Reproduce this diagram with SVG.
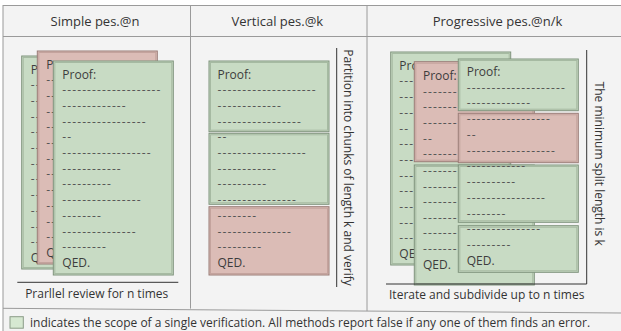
<svg xmlns="http://www.w3.org/2000/svg" width="621" height="331" viewBox="0 0 621 331">
<style>
text{font-family:"Open Sans","Noto Sans","DejaVu Sans",sans-serif;}
.frame{fill:#f3f3f3;stroke:#9a9a9a;stroke-width:1;}
.grid{stroke:#9a9a9a;stroke-width:1;fill:none;}
.br{stroke:#333;stroke-width:1;fill:none;}
.h{font-size:13px;fill:#333;text-anchor:middle;}
.lb{font-size:12px;fill:#333;text-anchor:middle;}
.ft{font-size:12px;fill:#333;}
.g{fill:#c8dbc4;stroke:#7f937c;stroke-width:1;}
.gi{fill:none;stroke:#a6baa2;stroke-width:1;}
.r{fill:#dbbcb6;stroke:#9a7c77;stroke-width:1;}
.ri{fill:none;stroke:#c4a39d;stroke-width:1;}
.p{font-size:12px;fill:#3d3d3d;}
.d{font-size:12px;fill:#555;letter-spacing:1.1px;}
</style>

<g id="table">
<rect class="frame" x="3" y="5.5" width="640" height="340"/>
<line class="grid" x1="3" y1="36.5" x2="621" y2="36.5"/>
<line class="grid" x1="190.5" y1="5.5" x2="190.5" y2="308.6"/>
<line class="grid" x1="367" y1="5.5" x2="367" y2="311.1"/>
<line class="grid" x1="3" y1="308.3" x2="621" y2="313"/>
<text class="h" x="95" y="26.3">Simple pes.@n</text>
<text class="h" x="277.3" y="26.3">Vertical pes.@k</text>
<text class="h" x="497.5" y="26.3">Progressive pes.@n/k</text>
</g>

<!-- Simple panel -->
<g id="simple-card-1">
<rect class="g" x="21.7" y="56" width="120" height="213"/>
<rect class="gi" x="23.2" y="57.5" width="117" height="210"/>
<text class="p" x="30.7" y="73.6">Pr</text>
<text class="d" x="30.7" y="89.2">--</text>
<text class="d" x="30.7" y="104.9">--</text>
<text class="d" x="30.7" y="120.6">--</text>
<text class="d" x="30.7" y="136.3">--</text>
<text class="d" x="30.7" y="152.0">--</text>
<text class="d" x="30.7" y="167.7">--</text>
<text class="d" x="30.7" y="183.4">--</text>
<text class="d" x="30.7" y="199.1">--</text>
<text class="d" x="30.7" y="214.8">--</text>
<text class="d" x="30.7" y="230.5">--</text>
<text class="d" x="30.7" y="246.2">--</text>
<text class="p" x="30.7" y="261.9">Q</text>
</g>
<g id="simple-card-2">
<rect class="r" x="37.3" y="51" width="120" height="213"/>
<rect class="ri" x="38.8" y="52.5" width="117" height="210"/>
<text class="p" x="46.3" y="68.6">Pr</text>
<text class="d" x="46.3" y="84.2">--</text>
<text class="d" x="46.3" y="99.9">--</text>
<text class="d" x="46.3" y="115.6">--</text>
<text class="d" x="46.3" y="131.3">--</text>
<text class="d" x="46.3" y="147.0">--</text>
<text class="d" x="46.3" y="162.7">--</text>
<text class="d" x="46.3" y="178.4">--</text>
<text class="d" x="46.3" y="194.1">--</text>
<text class="d" x="46.3" y="209.8">--</text>
<text class="d" x="46.3" y="225.5">--</text>
<text class="d" x="46.3" y="241.2">--</text>
<text class="p" x="46.3" y="256.9">Q</text>
</g>
<g id="simple-card-3">
<rect class="g" x="53.3" y="61" width="120" height="214"/>
<rect class="gi" x="54.8" y="62.5" width="117" height="211"/>
<text class="p" x="62.3" y="78.6">Proof:</text>
<text class="d" x="62.3" y="94.2">--------------------</text>
<text class="d" x="62.3" y="109.9">-------------</text>
<text class="d" x="62.3" y="125.6">-----------------</text>
<text class="d" x="62.3" y="141.3">--</text>
<text class="d" x="62.3" y="157.0">------------------</text>
<text class="d" x="62.3" y="172.7">------------</text>
<text class="d" x="62.3" y="188.4">----------</text>
<text class="d" x="62.3" y="204.1">----------------</text>
<text class="d" x="62.3" y="219.8">--------</text>
<text class="d" x="62.3" y="235.5">---------------</text>
<text class="d" x="62.3" y="251.2">---------</text>
<text class="p" x="62.3" y="266.9">QED.</text>
</g>
<g id="simple-label">
<text class="lb" x="96.7" y="298.3">Prarllel review for n times</text>
</g>

<!-- Vertical panel -->
<g id="vertical-chunk-1">
<rect class="g" x="209" y="61" width="120" height="70.7"/>
<rect class="gi" x="210.5" y="62.5" width="117" height="67.7"/>
<text class="p" x="217.5" y="78.6">Proof:</text>
<text class="d" x="217.5" y="94.2">--------------------</text>
<text class="d" x="217.5" y="109.9">-------------</text>
<text class="d" x="217.5" y="125.6">-----------------</text>
</g>
<g id="vertical-chunk-2">
<rect class="g" x="209" y="133.3" width="120" height="71"/>
<rect class="gi" x="210.5" y="134.8" width="117" height="68"/>
<text class="d" x="217.5" y="141.3">--</text>
<text class="d" x="217.5" y="157.0">------------------</text>
<text class="d" x="217.5" y="172.7">------------</text>
<text class="d" x="217.5" y="188.4">----------</text>
<text class="d" x="217.5" y="204.1">----------------</text>
</g>
<g id="vertical-chunk-3">
<rect class="r" x="209" y="206.7" width="120" height="68.3"/>
<rect class="ri" x="210.5" y="208.2" width="117" height="65.3"/>
<text class="d" x="217.5" y="219.8">--------</text>
<text class="d" x="217.5" y="235.5">---------------</text>
<text class="d" x="217.5" y="251.2">---------</text>
<text class="p" x="217.5" y="266.9">QED.</text>
</g>
<g id="vertical-label">
<text class="lb" transform="translate(343.5,167.5) rotate(90)">Partition into chunks of length k and verify</text>
</g>

<!-- Progressive panel -->
<g id="progressive-card-1">
<rect class="g" x="390.7" y="52" width="120" height="213"/>
<rect class="gi" x="392.2" y="53.5" width="117" height="210"/>
<text class="p" x="399.3" y="69.8">Pro</text>
<text class="d" x="399.3" y="85.4">---</text>
<text class="d" x="399.3" y="101.1">---</text>
<text class="d" x="399.3" y="116.8">---</text>
<text class="d" x="399.3" y="132.5">--</text>
<text class="d" x="399.3" y="148.2">---</text>
<text class="d" x="399.3" y="163.9">---</text>
<text class="d" x="399.3" y="179.6">---</text>
<text class="d" x="399.3" y="195.3">---</text>
<text class="d" x="399.3" y="211.0">---</text>
<text class="d" x="399.3" y="226.7">---</text>
<text class="d" x="399.3" y="242.4">---</text>
<text class="p" x="399.3" y="258.1">QE</text>
</g>
<g id="progressive-card-2">
<rect class="r" x="414.3" y="61.7" width="120" height="100"/>
<rect class="ri" x="415.8" y="63.2" width="117" height="97"/>
<text class="p" x="423" y="79.8">Proof:</text>
<text class="d" x="423" y="95.5">-------</text>
<text class="d" x="423" y="111.2">-------</text>
<text class="d" x="423" y="126.9">-------</text>
<text class="d" x="423" y="142.6">--</text>
<text class="d" x="423" y="158.3">-------</text>
<rect class="g" x="414.3" y="165" width="120" height="120"/>
<rect class="gi" x="415.8" y="166.5" width="117" height="117"/>
<text class="d" x="423" y="174.9">-------</text>
<text class="d" x="423" y="190.5">-------</text>
<text class="d" x="423" y="206.1">-------</text>
<text class="d" x="423" y="221.7">-------</text>
<text class="d" x="423" y="237.3">-------</text>
<text class="d" x="423" y="252.9">-------</text>
<text class="p" x="423" y="269.3">QED.</text>
</g>
<g id="progressive-card-3">
<rect class="g" x="458.3" y="59" width="120" height="51.7"/>
<rect class="gi" x="459.8" y="60.5" width="117" height="48.7"/>
<text class="p" x="466.7" y="75.5">Proof:</text>
<text class="d" x="466.7" y="91.5">--------------------</text>
<text class="d" x="466.7" y="107.25">-------------</text>
<rect class="r" x="458.3" y="113.3" width="120" height="49.4"/>
<rect class="ri" x="459.8" y="114.8" width="117" height="46.4"/>
<text class="d" x="466.7" y="123">-----------------</text>
<text class="d" x="466.7" y="138.75">--</text>
<text class="d" x="466.7" y="154.5">------------------</text>
<rect class="g" x="458.3" y="165" width="120" height="57.3"/>
<rect class="gi" x="459.8" y="166.5" width="117" height="54.3"/>
<text class="d" x="466.7" y="170.25">------------</text>
<text class="d" x="466.7" y="186">----------</text>
<text class="d" x="466.7" y="201.75">----------------</text>
<text class="d" x="466.7" y="217.5">--------</text>
<rect class="g" x="458.3" y="225.7" width="120" height="46.6"/>
<rect class="gi" x="459.8" y="227.2" width="117" height="43.6"/>
<text class="d" x="466.7" y="233.25">---------------</text>
<text class="d" x="466.7" y="249">---------</text>
<text class="p" x="466.7" y="264.75">QED.</text>
</g>
<g id="progressive-label">
<text class="lb" transform="translate(594.5,163.7) rotate(90)">The minimum split length is k</text>
<text class="lb" x="486.7" y="299.3">Iterate and subdivide up to n times</text>
</g>

<g id="connectors">
<line class="br" x1="17.3" y1="282.3" x2="178.3" y2="282.3"/>
<line class="br" x1="336.7" y1="48" x2="336.7" y2="287"/>
<polyline class="br" points="586.7,50 586.7,284 386,284"/>
</g>

<g id="legend">
<rect x="10" y="316.7" width="13.3" height="11.5" fill="#d6e8d1" stroke="#8a9c87" stroke-width="1"/>
<text class="ft" x="30" y="326.5">indicates the scope of a single verification. All methods report false if any one of them finds an error.</text>
</g>
</svg>
